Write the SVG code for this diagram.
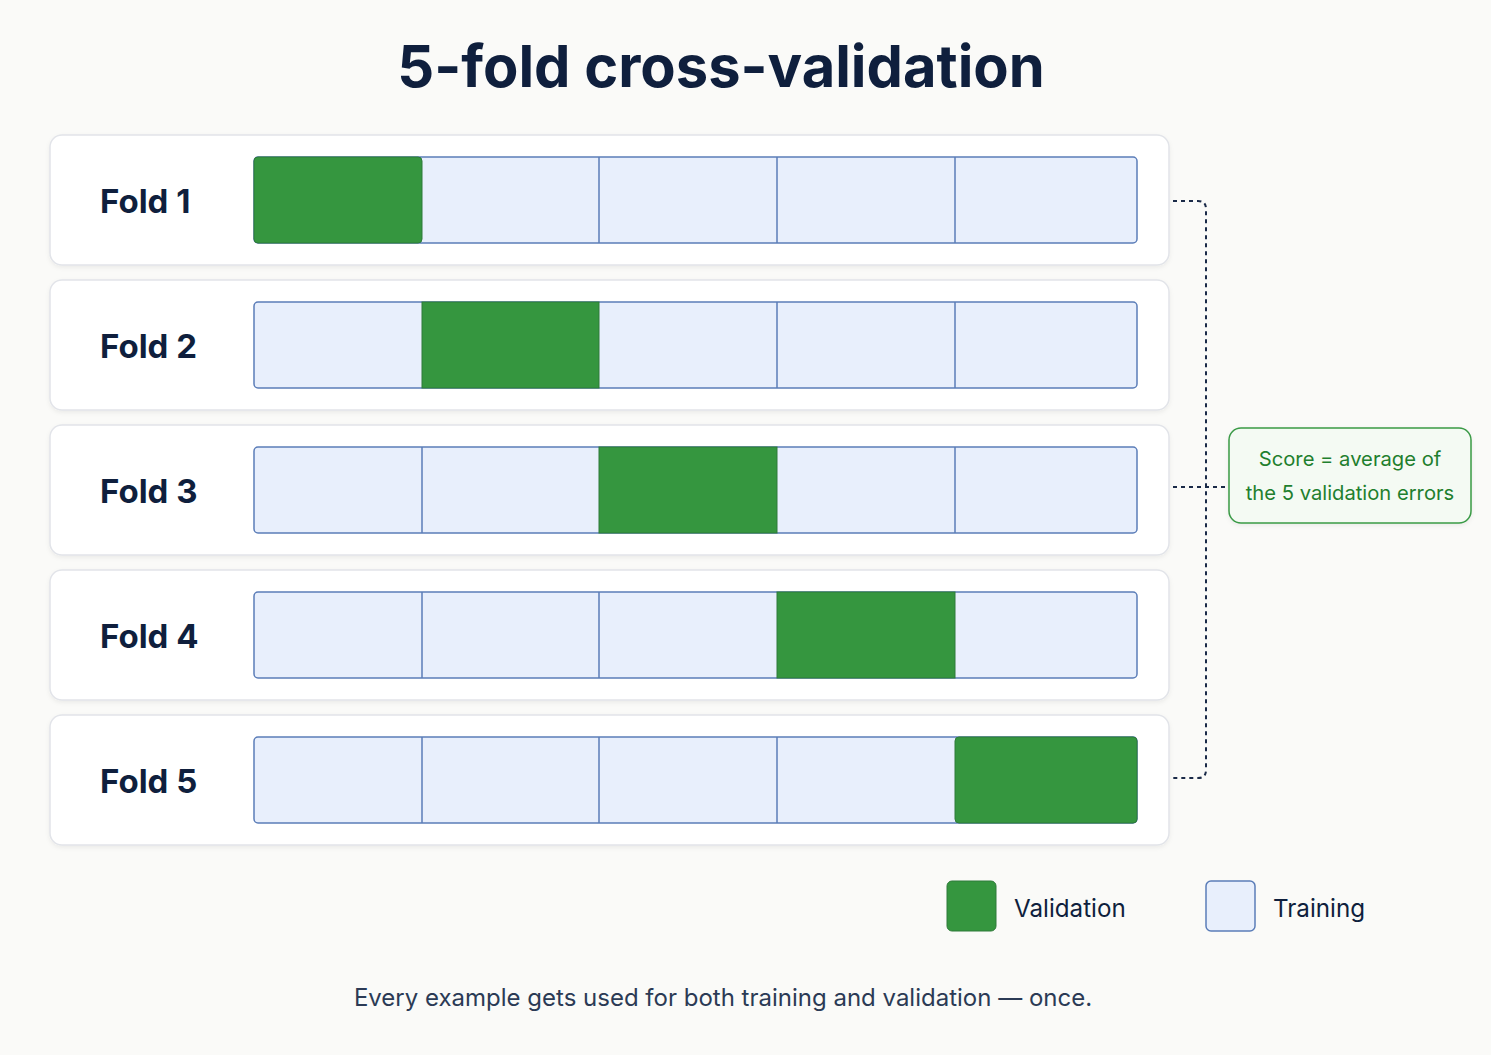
<svg xmlns="http://www.w3.org/2000/svg" width="1491" height="1055" viewBox="0 0 1491 1055">
<style>
.card{fill:#ffffff;stroke:#e2e4e9;stroke-width:1.5}
.tr{fill:#e8effc;stroke:#5b7db8;stroke-width:1.5}
.va{fill:#35963f;stroke:#2f7a3a;stroke-width:1}
.lbl{font-family:Inter,"Liberation Sans",sans-serif;font-weight:700;font-size:33px;fill:#0f1f3d}
.dash{fill:none;stroke:#1a2a48;stroke-width:2;stroke-dasharray:4 4}
.leg{font-family:Inter,"Liberation Sans",sans-serif;font-size:24.2px;fill:#0f1f3d}
.sc{font-family:Inter,"Liberation Sans",sans-serif;font-size:20.2px;fill:#1f7f2e}
</style>
<defs>
<filter id="sh" x="-5%" y="-10%" width="110%" height="130%">
<feDropShadow dx="0" dy="2" stdDeviation="2" flood-color="#000" flood-opacity="0.06"/>
</filter>
</defs>
<rect width="1491" height="1055" fill="#fafaf8"/>
<text x="721" y="87" text-anchor="middle" font-family="Inter,'Liberation Sans',sans-serif" font-weight="700" font-size="57.8" fill="#0f1f3d">5-fold cross-validation</text>

<g id="fold1">
<rect class="card" x="50" y="135" width="1119" height="130" rx="12" filter="url(#sh)"/>
<text class="lbl" x="100" y="213">Fold 1</text>
<rect class="tr" x="254" y="157" width="883" height="86" rx="4"/>
<rect class="va" x="254" y="157" width="168" height="86" rx="4"/>
<path class="tr" d="M599 157V243M777 157V243M955 157V243" fill="none"/>
</g>
<g id="fold2">
<rect class="card" x="50" y="280" width="1119" height="130" rx="12" filter="url(#sh)"/>
<text class="lbl" x="100" y="358">Fold 2</text>
<rect class="tr" x="254" y="302" width="883" height="86" rx="4"/>
<rect class="va" x="422" y="302" width="177" height="86"/>
<path class="tr" d="M777 302V388M955 302V388" fill="none"/>
</g>
<g id="fold3">
<rect class="card" x="50" y="425" width="1119" height="130" rx="12" filter="url(#sh)"/>
<text class="lbl" x="100" y="503">Fold 3</text>
<rect class="tr" x="254" y="447" width="883" height="86" rx="4"/>
<rect class="va" x="599" y="447" width="178" height="86"/>
<path class="tr" d="M422 447V533M955 447V533" fill="none"/>
</g>
<g id="fold4">
<rect class="card" x="50" y="570" width="1119" height="130" rx="12" filter="url(#sh)"/>
<text class="lbl" x="100" y="648">Fold 4</text>
<rect class="tr" x="254" y="592" width="883" height="86" rx="4"/>
<rect class="va" x="777" y="592" width="178" height="86"/>
<path class="tr" d="M422 592V678M599 592V678" fill="none"/>
</g>
<g id="fold5">
<rect class="card" x="50" y="715" width="1119" height="130" rx="12" filter="url(#sh)"/>
<text class="lbl" x="100" y="793">Fold 5</text>
<rect class="tr" x="254" y="737" width="883" height="86" rx="4"/>
<rect class="va" x="955" y="737" width="182" height="86" rx="4"/>
<path class="tr" d="M422 737V823M599 737V823M777 737V823" fill="none"/>
</g>

<g id="connectors">
<path class="dash" d="M1173 201H1198Q1206 201 1206 209V770Q1206 778 1198 778H1173"/>
<path class="dash" d="M1173 487H1229"/>
</g>

<g id="score">
<rect x="1229" y="428" width="242" height="95" rx="12" fill="#f4faf3" stroke="#3a9a46" stroke-width="1.5" filter="url(#sh)"/>
<text class="sc" x="1350" y="466" text-anchor="middle">Score = average of</text>
<text class="sc" x="1350" y="500" text-anchor="middle">the 5 validation errors</text>
</g>

<g id="legend">
<rect x="947" y="881" width="49" height="50" rx="5" class="va"/>
<text class="leg" x="1014" y="917">Validation</text>
<rect x="1206" y="881" width="49" height="50" rx="5" class="tr"/>
<text class="leg" x="1273" y="917">Training</text>
</g>

<text x="723" y="1006" text-anchor="middle" font-family="Inter,'Liberation Sans',sans-serif" font-size="24" fill="#2b3a55">Every example gets used for both training and validation — once.</text>
</svg>
